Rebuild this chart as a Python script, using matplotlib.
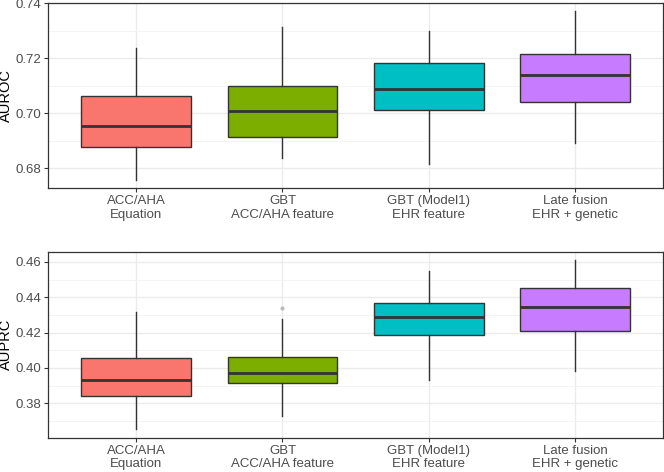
import matplotlib.pyplot as plt
from matplotlib.ticker import MultipleLocator

plt.rcParams['font.family'] = ['Liberation Sans', 'DejaVu Sans']

# Etiquetas de los modelos
modelos = ['ACC/AHA\nEquation', 'GBT\nACC/AHA feature', 'GBT (Model1)\nEHR feature', 'Late fusion\nEHR + genetic']
colores = ['#F8766D', '#7CAE00', '#00BFC4', '#C77CFF']

# AUROC: bigote inferior, Q1, mediana, Q3, bigote superior
auroc_whislo = [0.6757, 0.6836, 0.6816, 0.6891]
auroc_q1 = [0.6879, 0.6913, 0.7012, 0.7042]
auroc_med = [0.6955, 0.7008, 0.7088, 0.7138]
auroc_q3 = [0.7064, 0.7100, 0.7182, 0.7215]
auroc_whishi = [0.7236, 0.7315, 0.7300, 0.7373]
auroc_fliers = [[], [], [], []]

# AUPRC
auprc_whislo = [0.3653, 0.3725, 0.3930, 0.3983]
auprc_q1 = [0.3840, 0.3913, 0.4185, 0.4211]
auprc_med = [0.3930, 0.3974, 0.4291, 0.4345]
auprc_q3 = [0.4057, 0.4060, 0.4370, 0.4453]
auprc_whishi = [0.4319, 0.4275, 0.4549, 0.4609]
auprc_fliers = [[], [0.4338], [], []]


def armar_stats(wlo, q1, med, q3, whi, fliers):
    stats = []
    for i in range(len(med)):
        stats.append({'whislo': wlo[i], 'q1': q1[i], 'med': med[i], 'q3': q3[i],
                      'whishi': whi[i], 'fliers': fliers[i]})
    return stats


def dibujar(ax, stats, ylabel, ylim, ymajor):
    bp = ax.bxp(stats, positions=range(1, 5), widths=0.75, patch_artist=True,
                showcaps=False, zorder=3,
                boxprops=dict(edgecolor='#333333', linewidth=1.0),
                medianprops=dict(color='#333333', linewidth=2.0, solid_capstyle='butt'),
                whiskerprops=dict(color='#333333', linewidth=1.0),
                flierprops=dict(marker='o', markersize=3, markerfacecolor='#BBBBBB',
                                markeredgecolor='none'))
    for patch, c in zip(bp['boxes'], colores):
        patch.set_facecolor(c)
    ax.set_xlim(0.4, 4.6)
    ax.set_ylim(*ylim)
    ax.yaxis.set_major_locator(MultipleLocator(ymajor))
    ax.yaxis.set_minor_locator(MultipleLocator(ymajor / 2))
    ax.yaxis.set_major_formatter(plt.FormatStrFormatter('%.2f'))
    ax.set_xticks(range(1, 5))
    ax.set_xticklabels(modelos)
    ax.grid(which='major', color='#EBEBEB', linewidth=1.0, zorder=0)
    ax.grid(which='minor', axis='y', color='#F2F2F2', linewidth=0.6, zorder=0)
    ax.set_axisbelow(True)
    ax.tick_params(which='major', length=3, width=0.8, color='#333333',
                   labelcolor='#4D4D4D', labelsize=9.5, pad=2)
    ax.tick_params(which='minor', length=0)
    for s in ax.spines.values():
        s.set_color('#333333')
        s.set_linewidth(0.9)
    ax.set_ylabel(ylabel, fontsize=10.5, color='black')
    ax.yaxis.set_label_coords(-0.058, 0.5)


fig = plt.figure(figsize=(6.64, 4.72), dpi=100)
fig.patch.set_facecolor('white')

ax1 = fig.add_axes([0.0727, 0.601, 0.9258, 0.3933])
dibujar(ax1, armar_stats(auroc_whislo, auroc_q1, auroc_med, auroc_q3, auroc_whishi, auroc_fliers),
        'AUROC', (0.6727, 0.7402), 0.02)

ax2 = fig.add_axes([0.0727, 0.0727, 0.9258, 0.394])
dibujar(ax2, armar_stats(auprc_whislo, auprc_q1, auprc_med, auprc_q3, auprc_whishi, auprc_fliers),
        'AUPRC', (0.3605, 0.4658), 0.02)

plt.savefig('out.png', dpi=100, facecolor='white')
